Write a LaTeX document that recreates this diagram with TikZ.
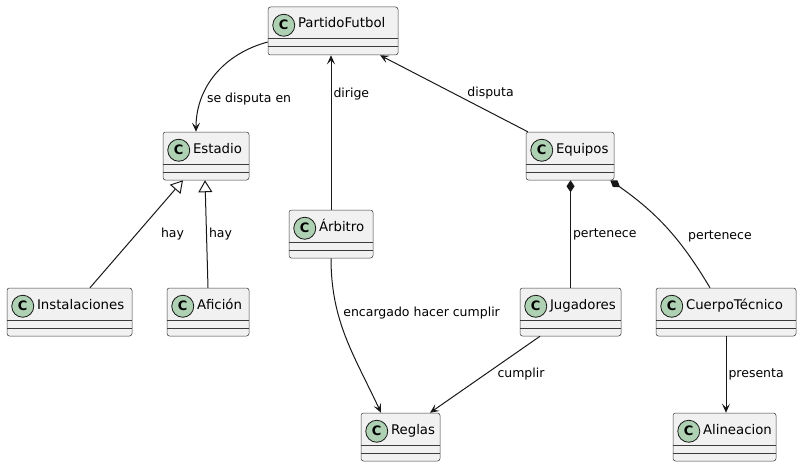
\documentclass[tikz,border=0pt]{standalone}
\usepackage{fontspec}
\setmainfont{DejaVu Sans}
\usepackage{xcolor}
\usepackage{tikz}
\usetikzlibrary{arrows.meta, positioning, calc}
\definecolor{clsfill}{HTML}{F1F1F1}
\definecolor{clsline}{HTML}{181818}
\definecolor{iconfill}{HTML}{ADD1B2}
\tikzset{
  cls/.style={rectangle,rounded corners=2.5pt,draw=clsline!85,line width=0.5pt,fill=clsfill,inner xsep=0pt,inner ysep=0pt,text width=#1,align=left,text height=21pt,text depth=27pt,font=\fontsize{13.3}{15}\selectfont},
  cicon/.style={circle,draw=clsline,line width=0.8pt,fill=iconfill,minimum size=22pt,inner sep=0pt,font=\fontsize{13}{13}\selectfont\bfseries},
  sep/.style={draw=clsline!85,line width=0.5pt},
  lbl/.style={font=\fontsize{12.5}{15}\selectfont,inner sep=2pt},
  arr/.style={-{Stealth[length=9pt,width=8pt,inset=4pt]},line width=1pt,draw=clsline},
  inh/.style={-{Triangle[open,length=12pt,width=14pt]},line width=1pt,draw=clsline},
  comp/.style={-{Diamond[length=12pt,width=8pt]},line width=1pt,draw=clsline}
}
\begin{document}
\begin{tikzpicture}[x=1pt,y=1pt]
  \useasboundingbox (0,0) rectangle (802,467);

  % classes
  \node[cls=130pt] (partido) at (333,436) {\hspace*{30pt}PartidoFutbol};
  \node[cls=86pt]  (estadio) at (206,311) {\hspace*{30pt}Estadio};
  \node[cls=88pt]  (equipos) at (570,311) {\hspace*{30pt}Equipos};
  \node[cls=84pt]  (arbitro) at (331,233) {\hspace*{30pt}Árbitro};
  \node[cls=125pt] (instal)  at (69.5,155) {\hspace*{30pt}Instalaciones};
  \node[cls=82pt]  (aficion) at (208,155) {\hspace*{30pt}Afición};
  \node[cls=101pt] (jugad)   at (570.5,155) {\hspace*{30pt}Jugadores};
  \node[cls=140pt] (cuerpo)  at (726,155) {\hspace*{30pt}CuerpoTécnico};
  \node[cls=79pt]  (reglas)  at (400.5,30) {\hspace*{30pt}Reglas};
  \node[cls=103pt] (alin)    at (724.5,30) {\hspace*{30pt}Alineacion};

  \foreach \n in {partido,estadio,equipos,arbitro,instal,aficion,jugad,cuerpo,reglas,alin} {
    \node[cicon] (\n-c) at ([xshift=16pt,yshift=-18.5pt]\n.north west) {C};
    \draw[sep] ([yshift=-32pt]\n.north west) -- ([yshift=-32pt]\n.north east);
    \draw[sep] ([yshift=-40pt]\n.north west) -- ([yshift=-40pt]\n.north east);
  }

  % relations
  \draw[arr] ([yshift=-11pt]partido.west) to[out=195,in=90]
    node[lbl,pos=0.74,anchor=west,xshift=3pt]{se disputa en} ([xshift=-10pt]estadio.north);
  \draw[arr] (arbitro.north) -- node[lbl,pos=0.75,anchor=west]{dirige} (arbitro.north |- partido.south);
  \draw[arr] ([xshift=2pt]equipos.north west) -- node[lbl,pos=0.5,anchor=west,xshift=11pt]{disputa} ([xshift=47pt]partido.south);

  \draw[inh] ([xshift=20.5pt]instal.north) -- node[lbl,pos=0.5,anchor=west,xshift=22pt]{hay} ([xshift=-23pt]estadio.south);
  \draw[inh] (aficion.north) -- node[lbl,pos=0.5,anchor=west]{hay} ([xshift=-1pt]estadio.south);

  \draw[comp] (jugad.north) -- node[lbl,pos=0.5,anchor=west]{pertenece} (jugad.north |- equipos.south);
  \draw[comp] ([xshift=-16pt]cuerpo.north) to[bend right=12]
    node[lbl,pos=0.5,anchor=west,xshift=19pt,yshift=-8pt]{pertenece} ([xshift=-4pt]equipos.south east);

  \draw[arr] (arbitro.south) to[out=-90,in=115]
    node[lbl,pos=0.33,anchor=west,xshift=3pt]{encargado hacer cumplir} ([xshift=-19.5pt]reglas.north);
  \draw[arr] ([xshift=-30.5pt]jugad.south) -- node[lbl,pos=0.5,anchor=west,xshift=10pt]{cumplir} ([xshift=29.5pt]reglas.north);
  \draw[arr] (cuerpo.south) -- node[lbl,pos=0.5,anchor=west]{presenta} (cuerpo.south |- alin.north);
\end{tikzpicture}
\end{document}
